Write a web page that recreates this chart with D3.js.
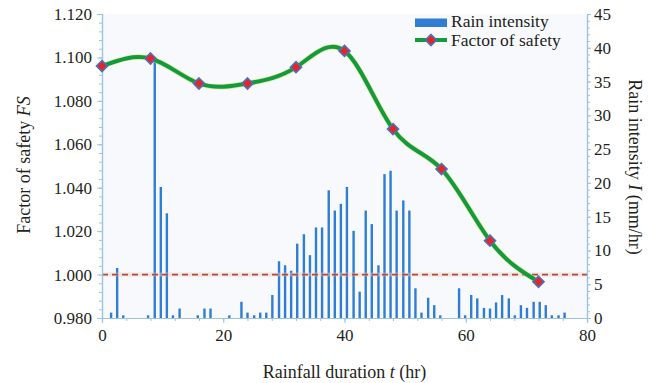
<!DOCTYPE html>
<html>
<head>
<meta charset="utf-8">
<script src="https://cdn.jsdelivr.net/npm/d3@7"></script>
<style>
  html, body { margin: 0; padding: 0; background: #fff; }
  svg { display: block; font-family: "Liberation Serif", "Times New Roman", serif; }
</style>
</head>
<body>
<svg id="chart" width="654" height="383"></svg>
<script>
// Factor of safety computed every 8 hours of rainfall
const fsTime  = [0, 8, 16, 24, 32, 40, 48, 56, 64, 72];
const fsValue = [1.096, 1.0995, 1.088, 1.088, 1.0955, 1.103, 1.067, 1.0486, 1.0156, 0.9967];

// Recorded rain intensity (mm/hr) and the time of each record (hr)
const rainTime = [
  1.5, 2.5, 3.5, 7.6, 8.7, 9.7, 10.7, 11.7, 12.8, 15.8, 16.9, 17.9, 21.0,
  23.0, 24.0, 25.1, 26.1, 27.1, 28.1, 29.2, 30.2, 31.2, 32.2, 33.3, 34.3,
  35.3, 36.3, 37.4, 38.4, 39.4, 40.4, 41.5, 42.5, 43.5, 44.5, 45.6, 46.6,
  47.6, 48.6, 49.7, 50.7, 51.7, 52.7, 53.8, 54.8, 55.8, 58.9, 59.9, 60.9,
  61.9, 63.0, 64.0, 65.0, 66.0, 67.1, 68.1, 69.1, 70.1, 71.2, 72.2, 73.2,
  74.2, 75.3, 76.3
];
const rainIntensity = [
  0.8, 7.4, 0.4, 0.4, 38.4, 19.4, 15.5, 0.4, 1.4, 0.4, 1.4, 1.4, 0.4,
  2.4, 0.8, 0.4, 0.8, 0.8, 3.4, 8.4, 7.8, 7.0, 11.0, 12.4, 9.3,
  13.4, 13.4, 18.9, 15.9, 16.9, 19.4, 12.9, 3.9, 15.9, 13.9, 7.8, 21.3,
  21.8, 15.9, 17.4, 15.9, 4.4, 0.8, 3.0, 1.9, 0.4, 4.4, 0.4, 3.4,
  2.9, 1.5, 1.4, 2.3, 3.4, 2.9, 0.4, 1.9, 1.5, 2.4, 2.4, 1.9,
  0.4, 0.4, 0.8
];

// Axis ticks and labels
const timeTicks = [0, 20, 40, 60, 80];
const fsTicks   = [0.98, 1.00, 1.02, 1.04, 1.06, 1.08, 1.10, 1.12];
const rainTicks = [0, 5, 10, 15, 20, 25, 30, 35, 40, 45];
const fsLimit   = 1.0;
const legendLabels = ["Rain intensity", "Factor of safety"];

const svg = d3.select("#chart");
const plot = { left: 102, right: 587, top: 14, bottom: 318 };

const x     = d3.scaleLinear().domain([0, 80]).range([plot.left, plot.right]);
const yFS   = d3.scaleLinear().domain([0.98, 1.12]).range([plot.bottom, plot.top]);
const yRain = d3.scaleLinear().domain([0, 45]).range([plot.bottom, plot.top]);

const axisColor = "#9cc4de";
const textColor = "#231f20";

// plot background
svg.append("rect")
  .attr("x", plot.left).attr("y", plot.top)
  .attr("width", plot.right - plot.left).attr("height", plot.bottom - plot.top)
  .attr("fill", "#f8f9fc");

// rain intensity bars
svg.append("g").selectAll("rect")
  .data(rainTime.map((t, i) => ({ t, v: rainIntensity[i] })))
  .join("rect")
  .attr("x", d => x(d.t) - 1.2)
  .attr("width", 2.4)
  .attr("y", d => yRain(d.v))
  .attr("height", d => yRain(0) - yRain(d.v))
  .attr("fill", "#2f7ed4");

// FS = 1.0 limit line
svg.append("line")
  .attr("x1", x(0)).attr("x2", x(80))
  .attr("y1", yFS(fsLimit)).attr("y2", yFS(fsLimit))
  .attr("stroke", "#f0c8bc").attr("stroke-width", 4).attr("opacity", 0.45);
svg.append("line")
  .attr("x1", x(0)).attr("x2", x(80))
  .attr("y1", yFS(fsLimit)).attr("y2", yFS(fsLimit))
  .attr("stroke", "#a94f3c").attr("stroke-width", 1.8)
  .attr("stroke-dasharray", "6,4");

// axes
function styleAxis(g) {
  g.select(".domain").attr("stroke", axisColor).attr("stroke-width", 1.2);
  g.selectAll(".tick line").attr("stroke", axisColor).attr("stroke-width", 1);
  g.selectAll(".tick text").attr("fill", textColor)
    .style("font-family", '"Liberation Serif", serif').style("font-size", "17px");
}

// minor ticks
svg.append("g").attr("transform", `translate(0,${plot.bottom})`)
  .call(d3.axisBottom(x).tickValues(d3.range(0, 81, 4)).tickSize(3).tickFormat(""))
  .call(styleAxis);
svg.append("g").attr("transform", `translate(${plot.left},0)`)
  .call(d3.axisLeft(yFS).tickValues(d3.range(0.98, 1.1201, 0.004)).tickSize(3).tickFormat(""))
  .call(styleAxis);
svg.append("g").attr("transform", `translate(${plot.right},0)`)
  .call(d3.axisRight(yRain).tickValues(d3.range(0, 46, 1)).tickSize(3).tickFormat(""))
  .call(styleAxis);

// major ticks with labels
svg.append("g").attr("transform", `translate(0,${plot.bottom})`)
  .call(d3.axisBottom(x).tickValues(timeTicks).tickSize(5).tickPadding(6).tickFormat(d3.format("d")))
  .call(styleAxis);
svg.append("g").attr("transform", `translate(${plot.left},0)`)
  .call(d3.axisLeft(yFS).tickValues(fsTicks).tickSize(5).tickPadding(5).tickFormat(d3.format(".3f")))
  .call(styleAxis);
svg.append("g").attr("transform", `translate(${plot.right},0)`)
  .call(d3.axisRight(yRain).tickValues(rainTicks).tickSize(4).tickPadding(3).tickFormat(d3.format("d")))
  .call(styleAxis);

// factor of safety curve
const fsPts = fsTime.map((t, i) => [x(t), yFS(fsValue[i])]);
const line = d3.line().curve(d3.curveNatural);
svg.append("path").attr("d", line(fsPts))
  .attr("fill", "none").attr("stroke", "#d9dc5a").attr("stroke-width", 5.5).attr("opacity", 0.6);
svg.append("path").attr("d", line(fsPts))
  .attr("fill", "none").attr("stroke", "#119a3e").attr("stroke-width", 4);

const diamond = d3.symbol().type(d3.symbolDiamond2).size(78);
function drawDiamond(sel, cx, cy) {
  sel.append("path")
    .attr("d", diamond())
    .attr("transform", `translate(${cx},${cy})`)
    .attr("fill", "#e3262b").attr("stroke", "#4b72b6").attr("stroke-width", 1.6);
}
const markers = svg.append("g");
fsPts.forEach(p => drawDiamond(markers, p[0], p[1]));

// legend
const lg = svg.append("g");
lg.append("rect").attr("x", 415).attr("y", 18.5).attr("width", 32).attr("height", 8.5)
  .attr("fill", "#2f7ed4");
lg.append("text").attr("x", 451).attr("y", 26.5).text(legendLabels[0])
  .attr("fill", textColor).style("font-size", "17.5px");
lg.append("line").attr("x1", 415).attr("x2", 447).attr("y1", 40).attr("y2", 40)
  .attr("stroke", "#119a3e").attr("stroke-width", 4);
drawDiamond(lg, 431, 40);
lg.append("text").attr("x", 451).attr("y", 45.5).text(legendLabels[1])
  .attr("fill", textColor).style("font-size", "17.5px");

// axis titles
const xt = svg.append("text").attr("x", (plot.left + plot.right) / 2).attr("y", 378)
  .attr("text-anchor", "middle").attr("fill", textColor).style("font-size", "18px");
xt.append("tspan").text("Rainfall duration ");
xt.append("tspan").text("t").style("font-style", "italic");
xt.append("tspan").text(" (hr)");

const yl = svg.append("text").attr("transform", "translate(30,165) rotate(-90)")
  .attr("text-anchor", "middle").attr("fill", textColor).style("font-size", "18px");
yl.append("tspan").text("Factor of safety ");
yl.append("tspan").text("FS").style("font-style", "italic");

const yr = svg.append("text").attr("transform", "translate(629,167) rotate(90)")
  .attr("text-anchor", "middle").attr("fill", textColor).style("font-size", "18px");
yr.append("tspan").text("Rain intensity ");
yr.append("tspan").text("I").style("font-style", "italic");
yr.append("tspan").text(" (mm/hr)");
</script>
</body>
</html>
